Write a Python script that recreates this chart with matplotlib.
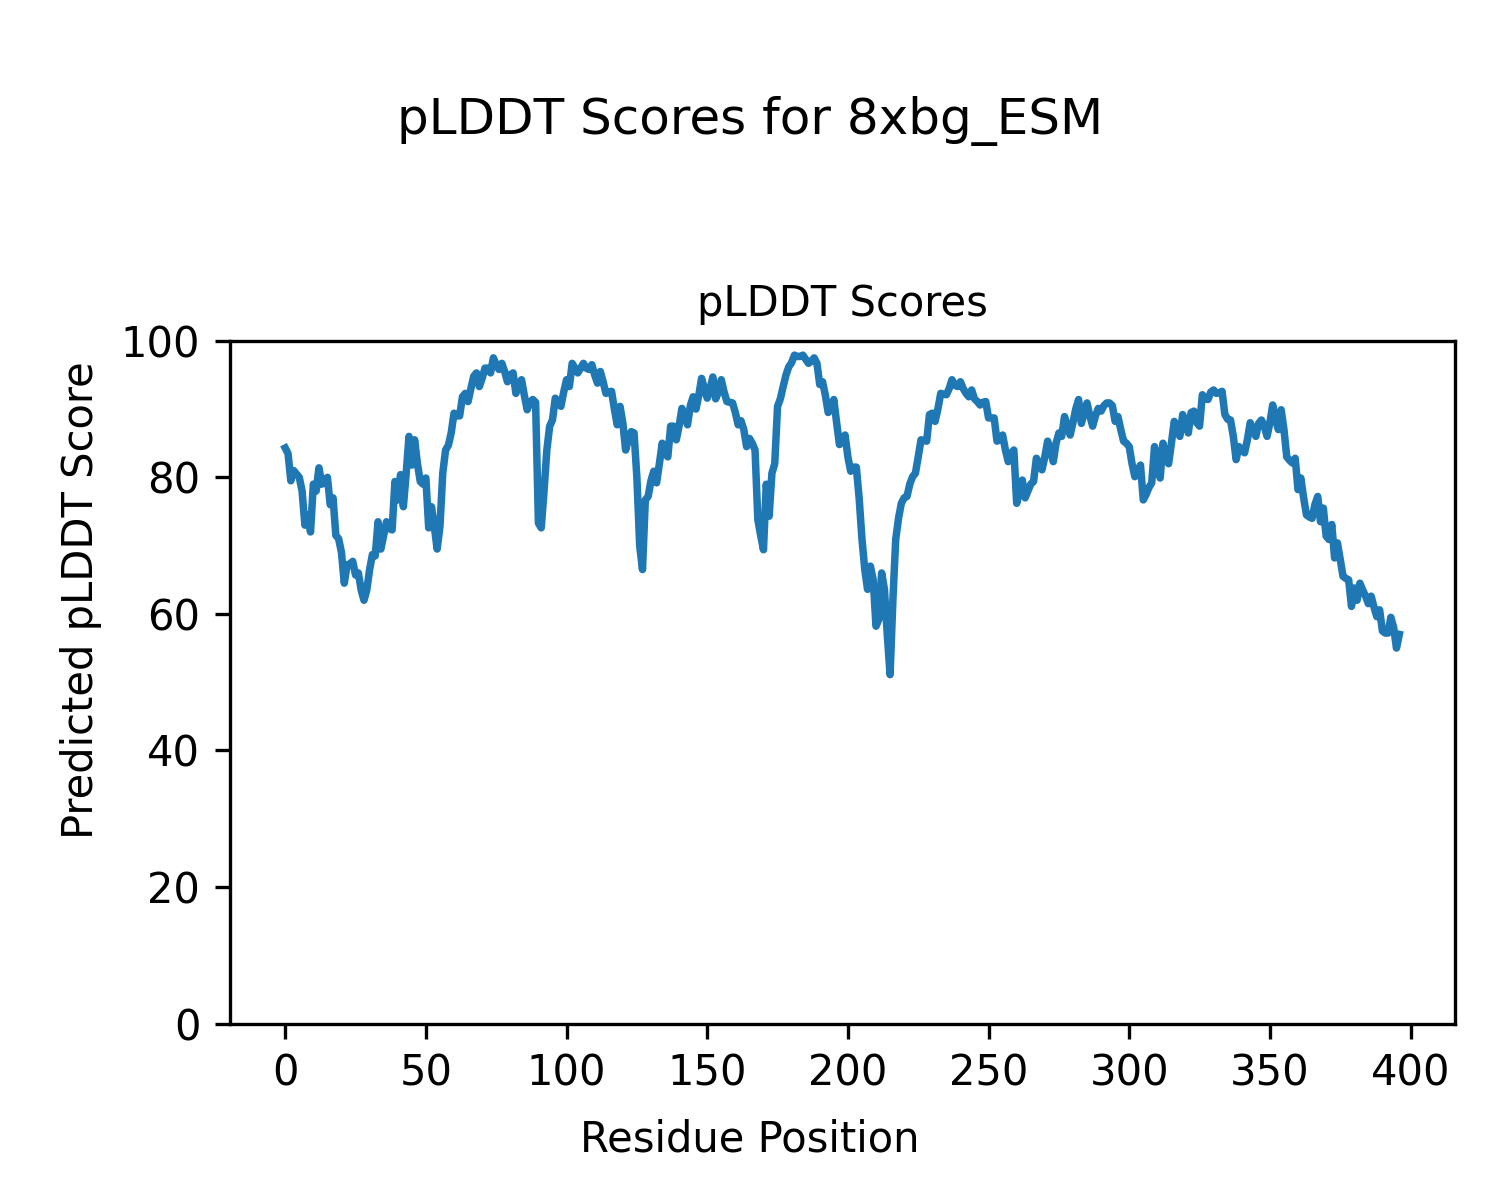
import matplotlib
matplotlib.use('Agg')
from matplotlib import pyplot as plt

# pLDDT per residue (residues 0..396)
plddt = [
    84.3, 83.5, 79.5, 81.0, 80.5, 80.0, 78.0, 73.0, 74.5, 72.0,
    79.0, 78.0, 81.4, 79.0, 79.5, 80.0, 76.0, 77.0, 71.5, 71.0,
    69.0, 64.5, 67.2, 67.3, 67.7, 65.7, 66.0, 63.5, 62.0, 63.5,
    66.5, 68.7, 68.5, 73.5, 69.5, 71.5, 73.5, 72.5, 72.3, 79.4,
    76.7, 80.4, 75.7, 80.6, 86.0, 81.8, 85.5, 82.0, 79.4, 79.0,
    79.9, 72.6, 75.7, 72.8, 69.5, 72.8, 80.6, 84.0, 84.7, 86.5,
    89.4, 89.0, 89.0, 91.8, 92.3, 91.1, 93.0, 94.8, 95.3, 93.3,
    94.5, 96.0, 96.0, 95.3, 97.5, 96.5, 95.8, 96.7, 95.5, 94.0,
    95.0, 95.3, 92.3, 93.5, 94.3, 92.0, 89.9, 91.0, 91.4, 91.0,
    73.3, 72.6, 78.0, 84.0, 87.5, 88.4, 91.6, 91.0, 90.4, 92.5,
    94.3, 93.3, 96.7, 96.0, 95.3, 96.0, 96.7, 96.0, 95.8, 96.5,
    95.0, 93.8, 95.5, 94.0, 92.3, 92.5, 92.6, 90.0, 87.7, 90.4,
    88.0, 84.0, 85.5, 86.7, 86.5, 80.0, 70.0, 66.5, 76.7, 77.2,
    79.5, 80.9, 79.2, 82.0, 85.0, 83.5, 83.0, 87.5, 87.5, 85.5,
    87.5, 90.1, 89.0, 87.7, 90.5, 91.8, 90.0, 92.0, 94.5, 93.0,
    91.6, 93.0, 94.7, 91.5, 92.5, 94.3, 92.5, 91.1, 91.0, 90.9,
    89.5, 87.7, 88.3, 87.0, 84.5, 85.7, 85.0, 84.0, 73.8, 71.5,
    69.4, 79.0, 74.3, 80.6, 82.0, 90.4, 91.5, 93.3, 95.0, 96.2,
    96.8, 97.9, 97.7, 97.7, 97.9, 97.3, 96.7, 97.0, 97.5, 96.7,
    93.6, 94.0, 92.0, 89.5, 90.0, 91.4, 88.0, 84.8, 85.5, 86.2,
    83.0, 80.9, 81.5, 81.5, 77.0, 71.0, 66.5, 63.6, 67.0, 65.0,
    58.2, 59.2, 66.0, 63.6, 57.0, 51.1, 62.0, 70.9, 74.0, 76.2,
    77.0, 77.2, 79.0, 80.1, 80.6, 83.0, 85.5, 85.4, 85.3, 89.2,
    89.4, 88.2, 90.0, 92.3, 92.2, 92.1, 93.0, 94.3, 93.5, 93.3,
    94.0, 93.0, 92.3, 91.8, 92.8, 91.5, 91.1, 90.6, 91.0, 91.1,
    88.7, 88.7, 88.7, 85.3, 85.5, 86.2, 84.0, 82.3, 83.5, 84.0,
    76.2, 78.0, 79.6, 77.0, 78.0, 79.0, 79.4, 82.8, 82.0, 81.1,
    83.0, 85.3, 84.0, 82.3, 85.0, 86.5, 86.0, 88.9, 87.5, 86.2,
    88.0, 90.0, 91.4, 87.9, 89.5, 90.9, 89.0, 87.5, 89.0, 90.1,
    89.7, 90.5, 90.9, 90.9, 90.5, 88.2, 88.9, 87.0, 85.3, 85.0,
    84.5, 82.0, 80.1, 81.0, 81.8, 76.7, 77.5, 78.5, 79.2, 84.5,
    82.0, 79.9, 85.0, 83.0, 82.0, 85.0, 88.2, 87.0, 86.0, 89.2,
    88.0, 86.5, 89.5, 89.7, 88.0, 87.5, 92.1, 91.5, 91.4, 92.5,
    92.8, 92.3, 92.4, 92.6, 89.2, 88.5, 88.4, 86.0, 82.6, 84.5,
    84.0, 83.6, 85.5, 88.0, 87.0, 86.0, 87.9, 88.4, 87.5, 86.0,
    88.0, 90.6, 88.5, 87.0, 89.9, 87.0, 83.0, 82.5, 82.1, 82.8,
    78.2, 79.9, 77.0, 74.5, 74.2, 74.0, 76.0, 77.2, 73.5, 75.5,
    71.4, 70.9, 73.1, 68.2, 70.4, 68.0, 65.5, 65.2, 65.0, 61.1,
    63.8, 62.0, 64.5, 63.5, 62.6, 61.5, 62.6, 61.0, 59.6, 60.6,
    57.5, 57.2, 57.2, 59.5, 58.0, 55.0, 57.0,
]
residues = list(range(len(plddt)))

protein = '8xbg_ESM'


def main():
    fig = plt.figure(figsize=(5, 4), dpi=300)
    fig.suptitle(f'pLDDT Scores for {protein}', fontsize=12, y=0.92)
    fig.supxlabel('Residue Position', fontsize=10, y=0.033)
    fig.supylabel('Predicted pLDDT Score', fontsize=10, x=0.04)

    ax = fig.add_axes([0.153, 0.147, 0.817, 0.569])
    ax.plot(residues, plddt, color='#1f77b4', linewidth=1.8)
    ax.set_ylim(0, 100)
    ax.set_title('pLDDT Scores', fontsize=10)

    plt.savefig('out.png', dpi=300)


if __name__ == '__main__':
    main()
